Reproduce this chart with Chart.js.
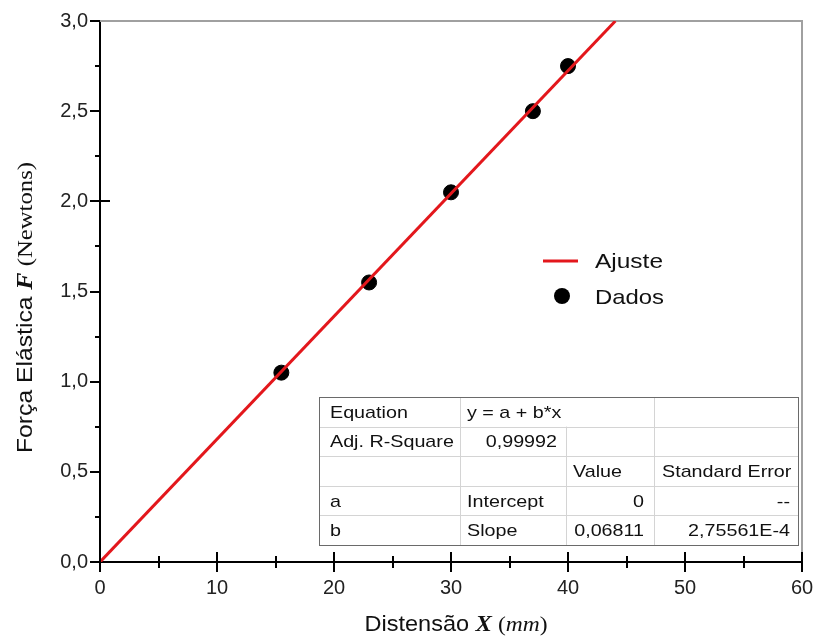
<!DOCTYPE html>
<html><head><meta charset="utf-8">
<script src="https://cdn.jsdelivr.net/npm/chart.js@4.4.1/dist/chart.umd.min.js"></script>
<style>html,body{margin:0;padding:0;background:#fff;} #wrap{width:815px;height:639px;position:relative;}</style>
</head><body><div id="wrap"><canvas id="c" width="815" height="639"></canvas></div>
<script>
// ---- data ----
const distensao = [15.5, 23, 30, 37, 40];
const forca = [1.05, 1.55, 2.05, 2.50, 2.75];
const ajusteX = [0, 44.05];
const ajusteY = [0, 3.0];
const xTickLabels = ['0','10','20','30','40','50','60'];
const yTickLabels = ['0,0','0,5','1,0','1,5','2,0','2,5','3,0'];
const seriesNames = ['Ajuste','Dados'];
const tableRows = [
  ['Equation','y = a + b*x','',''],
  ['Adj. R-Square','0,99992','',''],
  ['','','Value','Standard Error'],
  ['a','Intercept','0','--'],
  ['b','Slope','0,06811','2,75561E-4']
];

const SANS = '"Liberation Sans", Arial, sans-serif';
const SERIF = '"Liberation Serif", "Times New Roman", serif';
const RED = '#e3171c';

function drawRich(ctx, segs, x, y, targetW, align, sxFixed) {
  let w = 0;
  segs.forEach(s => { ctx.font = s.f; s.w = ctx.measureText(s.t).width; w += s.w; });
  const sx = sxFixed || (targetW ? targetW / w : 1);
  ctx.save();
  ctx.translate(x, y);
  ctx.scale(sx, 1);
  let cx = align === 'center' ? -w / 2 : (align === 'right' ? -w : 0);
  ctx.textBaseline = 'alphabetic';
  ctx.textAlign = 'left';
  segs.forEach(s => { ctx.font = s.f; ctx.fillStyle = s.c || '#111'; ctx.fillText(s.t, cx, 0); cx += s.w; });
  ctx.restore();
}

const decor = {
  id: 'decor',
  beforeDatasetsDraw(chart) {
    const ctx = chart.ctx, ca = chart.chartArea;
    ctx.save();
    ctx.strokeStyle = '#a0a0a0';
    ctx.lineWidth = 2;
    ctx.beginPath();
    ctx.moveTo(ca.left, ca.top); ctx.lineTo(ca.right, ca.top); ctx.lineTo(ca.right, ca.bottom);
    ctx.stroke();
    ctx.restore();
  },
  afterDraw(chart) {
    const ctx = chart.ctx, ca = chart.chartArea;
    const xs = chart.scales.x, ys = chart.scales.y;
    ctx.save();
    // tick marks
    ctx.strokeStyle = '#000';
    ctx.lineWidth = 2;
    const xt = xs.ticks.map(t => t.value);
    const line = (a, b, c, d) => { ctx.beginPath(); ctx.moveTo(a, b); ctx.lineTo(c, d); ctx.stroke(); };
    xt.forEach((v, i) => {
      const p = Math.round(xs.getPixelForValue(v));
      line(p, ca.bottom - 10, p, ca.bottom + 10);
      if (i < xt.length - 1) {
        const m = Math.round(xs.getPixelForValue((v + xt[i + 1]) / 2));
        line(m, ca.bottom - 6, m, ca.bottom + 6);
      }
    });
    const yt = ys.ticks.map(t => t.value);
    yt.forEach((v, i) => {
      const p = Math.round(ys.getPixelForValue(v));
      line(ca.left - 10, p, ca.left, p);
      if (i < yt.length - 1) {
        const m = Math.round(ys.getPixelForValue((v + yt[i + 1]) / 2));
        line(ca.left - 5, m, ca.left, m);
      }
    });
    const p2 = Math.round(ys.getPixelForValue(2));
    line(ca.left, p2, ca.left + 10, p2);

    // table
    const tL = 319, tR = 798, tT = 397, rh = 29.6;
    const cols = [tL, 460, 566, 654, tR];
    const tB = tT + rh * tableRows.length;
    ctx.fillStyle = '#fff';
    ctx.fillRect(tL, tT, tR - tL, tB - tT);
    ctx.lineWidth = 1;
    ctx.strokeStyle = '#d4d4d4';
    for (let r = 1; r < tableRows.length; r++) {
      const y = Math.round(tT + rh * r) + 0.5;
      line(tL, y, tR, y);
    }
    for (let c = 1; c < cols.length - 1; c++) {
      const x = cols[c] + 0.5;
      const yStart = (c === 2) ? tT + rh : tT;
      line(x, yStart, x, tB);
    }
    ctx.strokeStyle = '#6a6a6a';
    ctx.strokeRect(tL + 0.5, Math.round(tT) + 0.5, tR - tL, Math.round(tB - tT));
    const tf = '17px ' + SANS;
    const SX = 1.16;
    tableRows.forEach((row, r) => {
      const yb = tT + rh * (r + 0.5) + 6;
      if (row[0]) drawRich(ctx, [{t: row[0], f: tf}], 330, yb, 0, 'left', SX);
      if (row[1]) {
        if (r === 1) drawRich(ctx, [{t: row[1], f: tf}], 557, yb, 0, 'right', SX);
        else drawRich(ctx, [{t: row[1], f: tf}], 467, yb, 0, 'left', SX);
      }
      if (row[2]) {
        if (r === 2) drawRich(ctx, [{t: row[2], f: tf}], 573, yb, 0, 'left', SX);
        else drawRich(ctx, [{t: row[2], f: tf}], 644, yb, 0, 'right', SX);
      }
      if (row[3]) {
        if (r === 2) drawRich(ctx, [{t: row[3], f: tf}], 662, yb, 0, 'left', SX);
        else drawRich(ctx, [{t: row[3], f: tf}], 790, yb, 0, 'right', SX);
      }
    });

    // legend
    ctx.strokeStyle = RED;
    ctx.lineWidth = 3;
    line(543, 261, 578, 261);
    ctx.fillStyle = '#000';
    ctx.beginPath(); ctx.arc(562, 296, 8, 0, Math.PI * 2); ctx.fill();
    drawRich(ctx, [{t: seriesNames[0], f: '21px ' + SANS}], 595, 268, 68, 'left');
    drawRich(ctx, [{t: seriesNames[1], f: '21px ' + SANS}], 595, 304, 69, 'left');

    // axis titles
    drawRich(ctx, [
      {t: 'Distensão ', f: '22px ' + SANS},
      {t: 'X', f: 'italic bold 23px ' + SERIF},
      {t: ' (', f: '22px ' + SERIF},
      {t: 'mm', f: 'italic 22px ' + SERIF},
      {t: ')', f: '22px ' + SERIF}
    ], 456, 631, 183, 'center');
    ctx.save();
    ctx.translate(32, 307.5);
    ctx.rotate(-Math.PI / 2);
    drawRich(ctx, [
      {t: 'Força Elástica ', f: '22px ' + SANS},
      {t: 'F', f: 'italic bold 23px ' + SERIF},
      {t: ' (Newtons)', f: '22px ' + SERIF}
    ], 0, 0, 291, 'center');
    ctx.restore();
    ctx.restore();
  }
};

new Chart(document.getElementById('c'), {
  type: 'scatter',
  data: {
    datasets: [
      {
        type: 'line',
        label: seriesNames[0],
        data: ajusteX.map((x, i) => ({x, y: ajusteY[i]})),
        borderColor: RED,
        borderWidth: 3,
        pointRadius: 0,
        fill: false,
        tension: 0
      },
      {
        type: 'scatter',
        label: seriesNames[1],
        data: distensao.map((x, i) => ({x, y: forca[i]})),
        backgroundColor: '#000',
        borderColor: '#000',
        pointRadius: 7.5,
        pointHoverRadius: 7.5
      }
    ]
  },
  options: {
    responsive: false,
    animation: false,
    events: [],
    layout: {padding: {top: 21, right: 13, bottom: 0, left: 0}},
    plugins: {legend: {display: false}, tooltip: {enabled: false}},
    scales: {
      x: {
        type: 'linear', min: 0, max: 60,
        ticks: {stepSize: 10, padding: 14, color: '#222', font: {family: SANS, size: 20},
          callback: (v, i) => xTickLabels[i]},
        grid: {display: false, drawTicks: false},
        border: {display: true, color: '#000', width: 2},
        afterFit: s => { s.height = 77; s.paddingLeft = 0; s.paddingRight = 0; }
      },
      y: {
        type: 'linear', min: 0, max: 3,
        ticks: {stepSize: 0.5, padding: 12, color: '#222', font: {family: SANS, size: 20},
          callback: (v, i) => yTickLabels[i]},
        grid: {display: false, drawTicks: false},
        border: {display: true, color: '#000', width: 2},
        afterFit: s => { s.width = 100; s.paddingTop = 0; s.paddingBottom = 0; }
      }
    }
  },
  plugins: [decor]
});
</script>
</body></html>
